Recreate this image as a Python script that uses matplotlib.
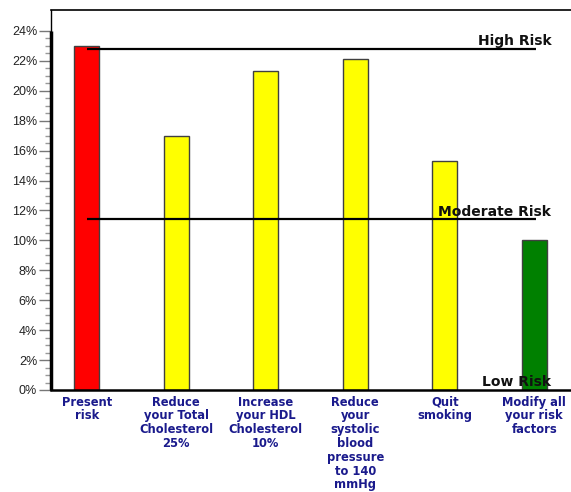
import matplotlib
matplotlib.use("Agg")
import matplotlib.pyplot as plt
from matplotlib.ticker import FixedLocator, FuncFormatter

categories = ["Present\nrisk", "Reduce\nyour Total\nCholesterol\n25%", "Increase\nyour HDL\nCholesterol\n10%",
              "Reduce\nyour\nsystolic\nblood\npressure\nto 140\nmmHg", "Quit\nsmoking", "Modify all\nyour risk\nfactors"]
values = [23.0, 17.0, 21.3, 22.1, 15.3, 10.0]
colors = ["#ff0000", "#ffff00", "#ffff00", "#ffff00", "#ffff00", "#008000"]
risk_labels = ["High Risk", "Moderate Risk", "Low Risk"]
risk_levels = [22.8, 11.4, 0.0]
yticks = [i * 2 for i in range(13)]
yminor = [i * 0.5 for i in range(49)]

fig = plt.figure(figsize=(5.71, 4.92), dpi=100)
ax = fig.add_axes([51/571, 1-390/492, 520/571, 380/492])
x = list(range(len(categories)))
ax.bar(x, values, width=0.28, color=colors, edgecolor="#404040", linewidth=1.0, zorder=2)

ax.set_xlim(-0.4, 5.41)
ax.set_ylim(0, 25.4)

# risk lines
for lvl in risk_levels[:2]:
    ax.plot([0, 5.02], [lvl, lvl], color="black", linewidth=1.6, zorder=3, solid_capstyle="butt")
for lvl, lab in zip(risk_levels, risk_labels):
    ax.text(5.19, lvl + 0.05, lab, ha="right", va="bottom", fontsize=10, fontweight="bold",
            color="#111111", zorder=4)

# spines
ax.spines["right"].set_visible(False)
ax.spines["top"].set_linewidth(1.2)
ax.spines["left"].set_linewidth(1.0)
ax.spines["bottom"].set_linewidth(1.8)
ax.plot([-0.4, -0.4], [0, 24], color="black", linewidth=2.5, clip_on=False, zorder=5, solid_capstyle="butt")

ax.yaxis.set_major_locator(FixedLocator(yticks))
ax.yaxis.set_minor_locator(FixedLocator(yminor))
ax.yaxis.set_major_formatter(FuncFormatter(lambda v, p: f"{int(v)}%"))
ax.tick_params(axis="y", which="major", length=9, width=1, color="#777777", labelsize=9, labelcolor="#222222", pad=1)
ax.tick_params(axis="y", which="minor", length=4, width=1, color="#999999")
for t in ax.get_yticklabels():
    t.set_fontfamily("Liberation Sans")

ax.set_xticks(x)
ax.set_xticklabels(categories, fontsize=8.3, fontweight="bold", color="#1a1a8c", linespacing=1.08)
ax.tick_params(axis="x", length=0, pad=4)

fig.savefig("out.png", dpi=100)
